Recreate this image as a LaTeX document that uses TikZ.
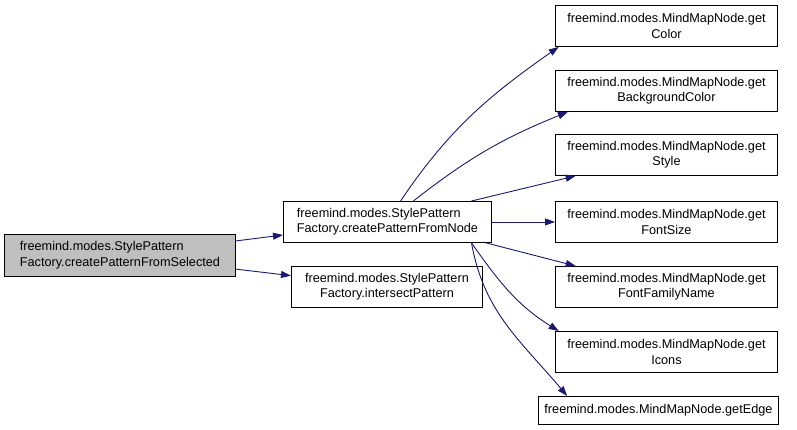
\documentclass[tikz,border=0pt]{standalone}
\usepackage{fontspec}
\setmainfont{Liberation Sans}
\usetikzlibrary{arrows.meta,positioning}
\definecolor{edgeblue}{RGB}{25,25,112}
\definecolor{rootfill}{RGB}{191,191,191}
\tikzset{
  fnbox/.style={draw=black, line width=0.9pt, fill=white, inner sep=0pt,
    minimum width=222pt, minimum height=41pt, anchor=north west,
    align=center, font=\fontsize{12.7}{15.5}\selectfont},
  callln/.style={-{Triangle[length=10pt,width=7pt]}, line width=0.9pt, edgeblue},
}

\begin{document}
\begin{tikzpicture}[x=1pt, y=1pt]
  \useasboundingbox (0,0) rectangle (797,429);
  % caller (highlighted)
  \node[fnbox, fill=rootfill, minimum width=231pt, minimum height=42pt, align=left]
    (root) at (4,195) {freemind.modes.StylePattern\\Factory.createPatternFromSelected};
  % direct callees
  \node[fnbox, minimum width=208pt, align=left] (cpfn) at (283,228)
    {freemind.modes.StylePattern\\Factory.createPatternFromNode};
  \node[fnbox, minimum width=191pt] (isect) at (291,163)
    {freemind.modes.StylePattern\\Factory.intersectPattern};
  % MindMapNode getters
  \node[fnbox] (color)   at (555,424) {freemind.modes.MindMapNode.get\\Color};
  \node[fnbox] (bgcolor) at (555,359) {freemind.modes.MindMapNode.get\\BackgroundColor};
  \node[fnbox] (style)   at (555,295) {freemind.modes.MindMapNode.get\\Style};
  \node[fnbox] (fsize)   at (555,228) {freemind.modes.MindMapNode.get\\FontSize};
  \node[fnbox] (ffname)  at (555,163) {freemind.modes.MindMapNode.get\\FontFamilyName};
  \node[fnbox] (icons)   at (555,98)  {freemind.modes.MindMapNode.get\\Icons};
  \node[fnbox, minimum width=240pt, minimum height=28pt] (edge) at (538,33)
    {freemind.modes.MindMapNode.getEdge};
  % calls
  \draw[callln] (root) -- (cpfn);
  \draw[callln] (root) -- (isect);
  \draw[callln] (cpfn.58) to[out=56, in=215] (color.191);
  \draw[callln] (cpfn.39) to[out=38, in=202] (bgcolor.192);
  \draw[callln] (cpfn.14) -- (style.193);
  \draw[callln] (cpfn) -- (fsize);
  \draw[callln] (cpfn.-12.5) -- (ffname.167);
  \draw[callln] (cpfn.-14) to[out=-55, in=148] (icons.169);
  \draw[callln] (cpfn.-14.5) to[out=-80, in=130] (edge.171);
\end{tikzpicture}
\end{document}
